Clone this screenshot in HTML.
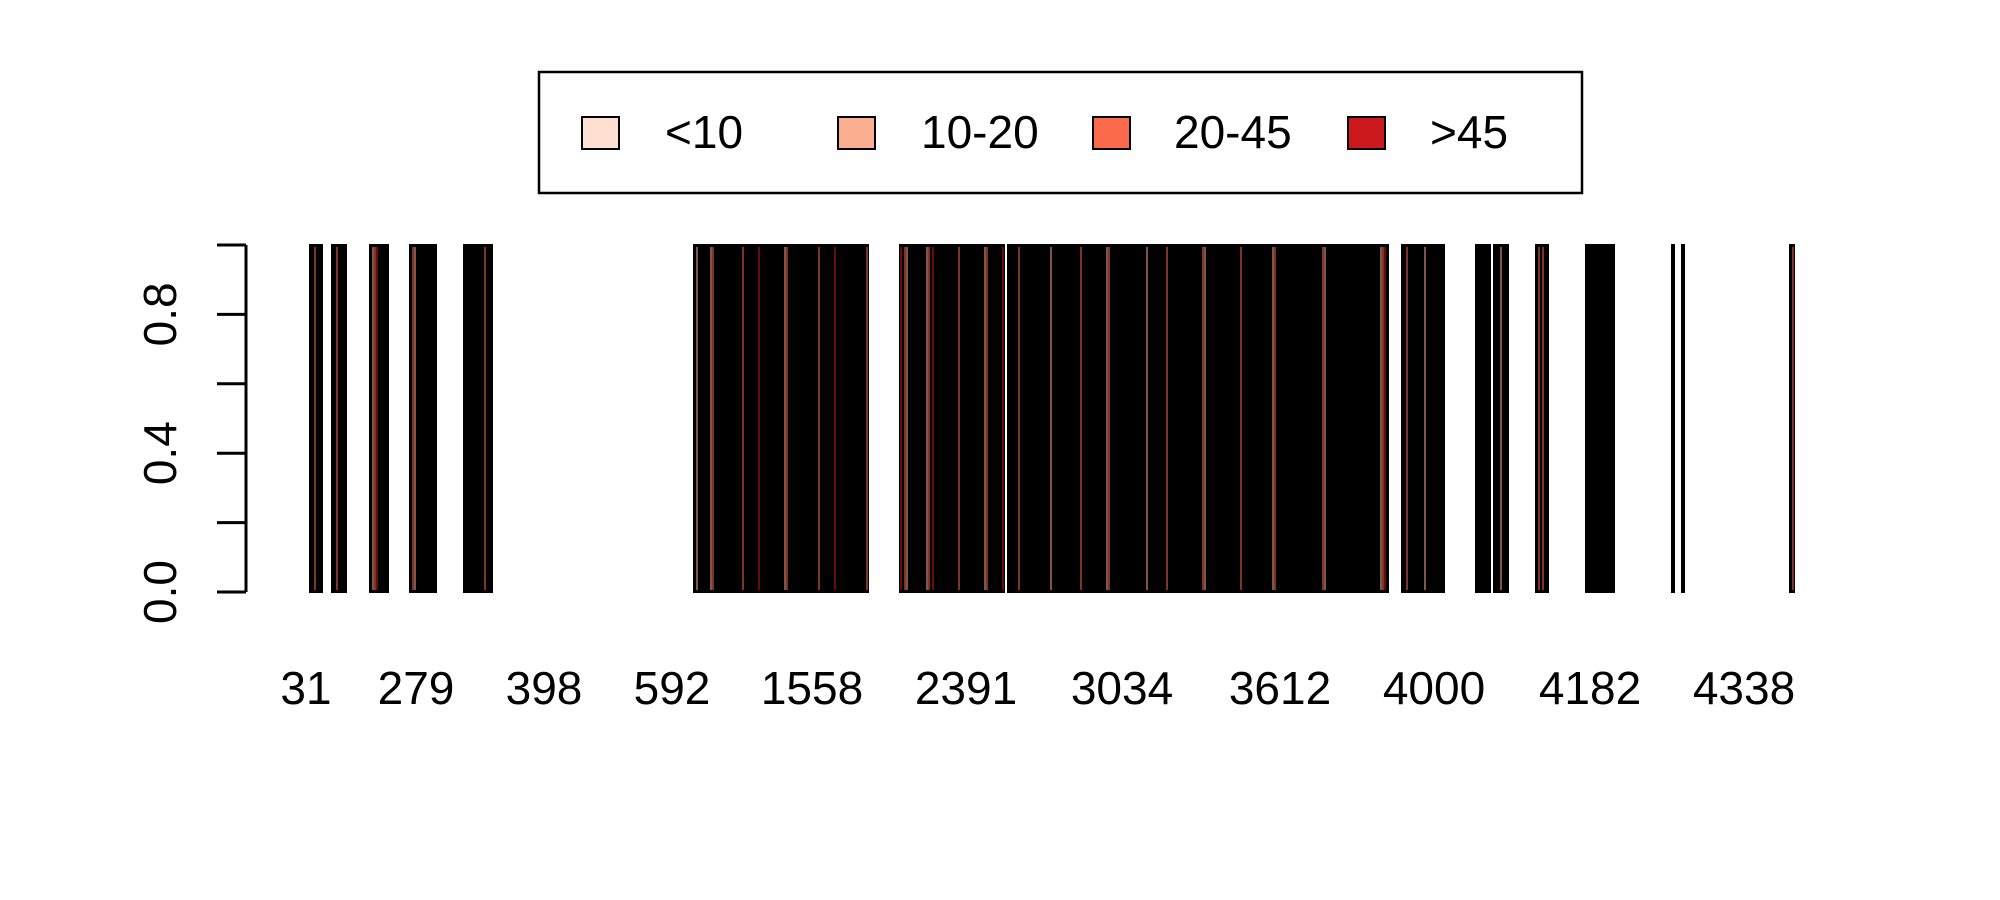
<!DOCTYPE html>
<html><head><meta charset="utf-8"><style>
html,body{margin:0;padding:0;background:#fff;}
svg{display:block;font-family:"Liberation Sans",Arial,sans-serif;}
</style></head><body>
<svg id="chart" width="2000" height="900" viewBox="0 0 2000 900" xmlns="http://www.w3.org/2000/svg">
<rect x="0" y="0" width="2000" height="900" fill="#fff"/>
<g id="legend">
<rect x="539" y="72" width="1043" height="121" fill="#fff" stroke="#000" stroke-width="2.5"/>
<g><rect x="582" y="117" width="37" height="32" fill="#FEE0D2" stroke="#000" stroke-width="2"/><text x="665" y="148" font-size="46">&lt;10</text></g>
<g><rect x="838" y="117" width="37" height="32" fill="#FCAE91" stroke="#000" stroke-width="2"/><text x="921" y="148" font-size="46">10-20</text></g>
<g><rect x="1093" y="117" width="37" height="32" fill="#FB6A4A" stroke="#000" stroke-width="2"/><text x="1174" y="148" font-size="46">20-45</text></g>
<g><rect x="1348" y="117" width="37" height="32" fill="#CB181D" stroke="#000" stroke-width="2"/><text x="1430" y="148" font-size="46">&gt;45</text></g>
</g>
<g id="bars" shape-rendering="crispEdges"></g>
<g id="yaxis"></g>
<g id="xlabels"></g>
</svg>
<script>
const groupStarts = [0, 11, 30, 50, 77, 192, 295, 349, 546, 583, 592, 613, 638, 681, 686, 740];
const groupHeights = [1, 1, 1, 1, 1, 1, 1, 1, 1, 1, 1, 1, 1, 1, 1, 1];
const groupCodes = [
  "002000",
  "0020000",
  "012300000",
  "0210000000000",
  "00000000002000",
  "010000001200000000000000200000003000000000000120000000000000002000000030000000000000002",
  "3021000000000120300000000000020000000000001200000003",
  "0000020000000000000001000000000000002000000000000120000000000000000001000000000200000000000000000210000000000000000020000000000000001200000000000000000000000210000000000000000000000000001230",
  "002000000001000000000",
  "0000000",
  "0001000",
  "020200",
  "00000000000000",
  "0",
  "0",
  "02"
];
const colorScale = ["#FEE0D2", "#FCAE91", "#FB6A4A", "#CB181D"];
const yTicks = [0, 0.2, 0.4, 0.6, 0.8, 1.0];
const yTickLabels = ["0.0", "", "0.4", "", "0.8", ""];
const xLabelText = ["31", "279", "398", "592", "1558", "2391", "3034", "3612", "4000", "4182", "4338"];
const xLabelIndex = [-2, 53, 117, 181, 251, 328, 406, 485, 562, 640, 717];

const NS = "http://www.w3.org/2000/svg";
const X0 = 310, U = 2.0;
const Y0 = 592, Y1 = 245;
function xScale(i) { return X0 + i * U; }
function yScale(v) { return Y0 - v * (Y0 - Y1); }

const barsG = document.getElementById('bars');
groupStarts.forEach((s, g) => {
  const codes = groupCodes[g];
  for (let k = 0; k < codes.length; k++) {
    const c = +codes[k];
    const x = xScale(s + k);
    const yt = yScale(groupHeights[g]);
    const r = document.createElementNS(NS, 'rect');
    r.setAttribute('x', x - 1);
    r.setAttribute('y', yt - 1);
    r.setAttribute('width', U + 2);
    r.setAttribute('height', yScale(0) - yt + 2);
    r.setAttribute('fill', '#000');
    
    
    barsG.appendChild(r);
  }
  for (let k = 0; k < codes.length; k++) {
    const c = +codes[k];
    if (c === 0) continue;
    const x = xScale(s + k);
    const yt = yScale(groupHeights[g]);
    const l = document.createElementNS(NS, 'rect');
    l.setAttribute('x', x + 0.5);
    l.setAttribute('y', yt + 2);
    l.setAttribute('width', 1);
    l.setAttribute('height', yScale(0) - yt - 4);
    l.setAttribute('fill', colorScale[c]);
    
    
    barsG.appendChild(l);
  }
});

const yG = document.getElementById('yaxis');
const axl = document.createElementNS(NS, 'line');
axl.setAttribute('x1', 246); axl.setAttribute('x2', 246);
axl.setAttribute('y1', yScale(0)); axl.setAttribute('y2', yScale(1));
axl.setAttribute('stroke', '#000'); axl.setAttribute('stroke-width', 3);


yG.appendChild(axl);
yTicks.forEach((v, i) => {
  const t = document.createElementNS(NS, 'line');
  t.setAttribute('x1', 217); t.setAttribute('x2', 246);
  t.setAttribute('y1', yScale(v)); t.setAttribute('y2', yScale(v));
  t.setAttribute('stroke', '#000'); t.setAttribute('stroke-width', 3);
  
  
  yG.appendChild(t);
  if (yTickLabels[i]) {
    const tx = document.createElementNS(NS, 'text');
    const y = yScale(v);
    tx.setAttribute('x', 0); tx.setAttribute('y', 0);
    tx.setAttribute('transform', 'translate(176,' + y + ') rotate(-90)');
    tx.setAttribute('text-anchor', 'middle');
    tx.setAttribute('font-size', '46');
    tx.textContent = yTickLabels[i];
    
    
    yG.appendChild(tx);
  }
});

const xG = document.getElementById('xlabels');
xLabelText.forEach((s, i) => {
  const tx = document.createElementNS(NS, 'text');
  tx.setAttribute('x', xScale(xLabelIndex[i]));
  tx.setAttribute('y', 704);
  tx.setAttribute('text-anchor', 'middle');
  tx.setAttribute('font-size', '46');
  tx.textContent = s;
  
  
  xG.appendChild(tx);
});
</script>
</body></html>
